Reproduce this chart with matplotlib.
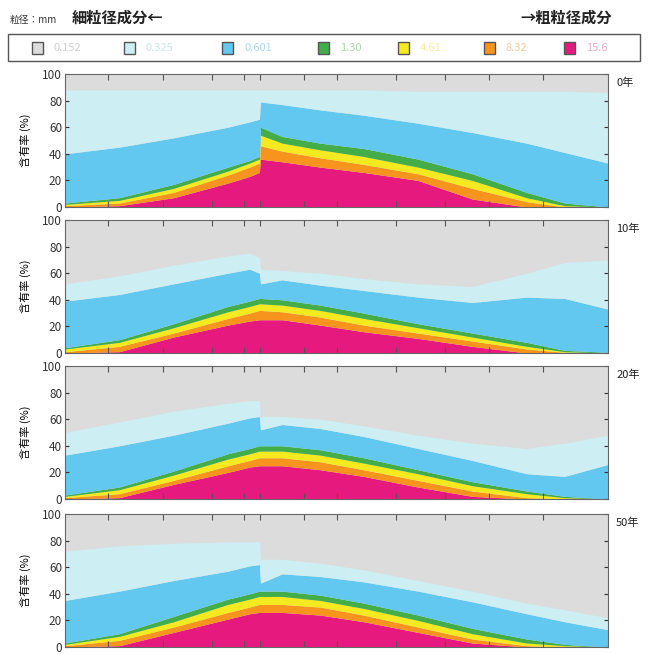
import numpy as np
import matplotlib
matplotlib.use("Agg")
import matplotlib.pyplot as plt
from matplotlib.patches import Rectangle

plt.rcParams["font.family"] = ["Noto Sans CJK JP", "DejaVu Sans"]

# ── データ（距離 0-100、累積境界 %） ─────────────────────────────────────────
x = [0, 10, 20, 30, 34, 35.8, 36.0, 40, 47, 55, 65, 75, 85, 92, 100]

sizes = ["0.152", "0.325", "0.601", "1.30", "4.61", "8.32", "15.6"]
panel_labels = ["0年", "10年", "20年", "50年"]

# 0年
p0_cyan    = [88, 88, 88, 88, 88, 88, 88, 88, 88, 88, 87, 87, 87, 87, 86]
p0_blue    = [40, 45, 52, 60, 64, 66, 79, 77, 73, 69, 63, 56, 48, 41, 33]
p0_green   = [3, 7, 17, 30, 35, 38, 60, 53, 48, 44, 36, 25, 11, 3, 0]
p0_yellow  = [2, 5, 14, 27, 33, 36, 54, 48, 43, 38, 30, 20, 7, 1, 0]
p0_orange  = [1, 3, 11, 24, 30, 33, 46, 42, 37, 32, 25, 14, 4, 0, 0]
p0_magenta = [0, 1, 7, 18, 23, 26, 36, 34, 30, 26, 20, 6, 0, 0, 0]

# 10年
p1_cyan    = [52, 58, 66, 73, 75, 72, 63, 62, 60, 56, 52, 50, 60, 68, 70]
p1_blue    = [39, 44, 52, 60, 63, 60, 52, 55, 51, 47, 42, 38, 42, 41, 33]
p1_green   = [4, 10, 22, 35, 39, 41, 41, 40, 36, 30, 22, 15, 8, 2, 0.5]
p1_yellow  = [3, 8, 19, 31, 35, 37, 37, 36, 32, 26, 19, 12, 5, 1, 0]
p1_orange  = [1, 5, 15, 26, 30, 32, 32, 31, 27, 21, 15, 9, 3, 0.5, 0]
p1_magenta = [0, 1, 12, 21, 24, 25, 25, 25, 21, 16, 11, 5, 0, 0, 0]

# 20年
p2_cyan    = [50, 58, 66, 72, 74, 74, 62, 62, 60, 55, 48, 42, 38, 42, 48]
p2_blue    = [33, 40, 48, 57, 61, 62, 52, 56, 53, 47, 38, 29, 19, 17, 26]
p2_green   = [3, 9, 21, 34, 38, 40, 40, 40, 37, 31, 22, 13, 6, 2, 0]
p2_yellow  = [2, 7, 18, 30, 34, 36, 36, 36, 33, 27, 19, 10, 4, 1, 0]
p2_orange  = [1, 4, 14, 25, 29, 31, 31, 31, 28, 22, 14, 6, 1, 0, 0]
p2_magenta = [0, 1, 11, 20, 24, 25, 25, 25, 22, 17, 9, 2, 0, 0, 0]

# 50年
p3_cyan    = [72, 76, 78, 79, 79, 79, 66, 66, 63, 58, 50, 42, 33, 28, 22]
p3_blue    = [35, 42, 50, 57, 61, 62, 48, 55, 53, 49, 42, 34, 25, 19, 13]
p3_green   = [3, 10, 23, 36, 40, 42, 42, 42, 39, 33, 24, 14, 6, 2, 0]
p3_yellow  = [2, 8, 19, 32, 36, 38, 38, 38, 35, 29, 20, 10, 3, 1, 0]
p3_orange  = [1, 5, 15, 26, 30, 32, 32, 32, 30, 24, 15, 6, 1, 0, 0]
p3_magenta = [0, 1, 11, 21, 25, 26, 26, 26, 24, 19, 11, 3, 0, 0, 0]

panels = [
    [p0_magenta, p0_orange, p0_yellow, p0_green, p0_blue, p0_cyan],
    [p1_magenta, p1_orange, p1_yellow, p1_green, p1_blue, p1_cyan],
    [p2_magenta, p2_orange, p2_yellow, p2_green, p2_blue, p2_cyan],
    [p3_magenta, p3_orange, p3_yellow, p3_green, p3_blue, p3_cyan],
]

# 上部の目盛り位置（測点）
top_ticks = [8, 18, 27, 33, 36, 44, 50, 61, 70, 78, 88]

# ── 色 ─────────────────────────────────────────────────────────────────────
# 細 → 粗
colors = ["#dcdcdc", "#cdeef3", "#62c8ef", "#43ad4a", "#f5ea20", "#f7941e", "#e6197f"]
text_colors = ["#d0d0d0", "#c8e8ee", "#a6dcee", "#a6d8a6", "#f5efa0", "#f6c9a0", "#f2a8cc"]

fig = plt.figure(figsize=(6.49, 6.54), dpi=100)

W, H = 649, 654
left_px, right_px = 65, 608
tops_px = [74, 220, 366, 514]
height_px = 133

for i, bounds in enumerate(panels):
    ax = fig.add_axes([left_px / W, 1 - (tops_px[i] + height_px) / H,
                       (right_px - left_px) / W, height_px / H])
    ax.set_facecolor(colors[0])
    lower = np.zeros(len(x))
    # 下から：粗（マゼンタ）→ 細
    for j, b in enumerate(bounds):
        b = np.array(b, dtype=float)
        ax.fill_between(x, lower, b, color=colors[6 - j], linewidth=0)
        lower = b
    ax.set_xlim(0, 100)
    ax.set_ylim(0, 100)
    ax.set_yticks([0, 20, 40, 60, 80, 100])
    ax.tick_params(axis="y", labelsize=8.5, direction="in", length=3,
                   right=True, pad=2, colors="#333333")
    ax.set_xticks(top_ticks)
    ax.tick_params(axis="x", direction="in", length=4, top=True,
                   labelbottom=False, colors="#555555")
    for s in ax.spines.values():
        s.set_color("#666666")
        s.set_linewidth(0.8)
    ax.set_ylabel("含有率 (%)", fontsize=8, labelpad=8)
    ax.text(1.015, 0.97, panel_labels[i], transform=ax.transAxes,
            fontsize=8, ha="left", va="top", color="#222222")

# ── 見出し・凡例 ───────────────────────────────────────────────────────────
fig.text(10 / W, 1 - 20 / H, "粒径：mm", fontsize=7, ha="left", va="center", color="#333333")
fig.text(72 / W, 1 - 18 / H, "細粒径成分←", fontsize=11, ha="left", va="center",
         color="#222222", fontweight="bold")
fig.text(612 / W, 1 - 18 / H, "→粗粒径成分", fontsize=11, ha="right", va="center",
         color="#222222", fontweight="bold")

fig.patches.append(Rectangle((8 / W, 1 - 61 / H), 632 / W, 27 / H,
                             transform=fig.transFigure, fill=False,
                             edgecolor="#555555", linewidth=1.0))

legend_px = [32, 124, 222, 318, 398, 484, 564]
for k in range(7):
    px = legend_px[k]
    fig.patches.append(Rectangle((px / W, 1 - 54 / H), 11 / W, 12 / H,
                                 transform=fig.transFigure, facecolor=colors[k],
                                 edgecolor="#555555", linewidth=1.0))
    fig.text((px + 22) / W, 1 - 48 / H, sizes[k], fontsize=8, ha="left",
             va="center", color=text_colors[k])

fig.savefig("out.png", dpi=100)
